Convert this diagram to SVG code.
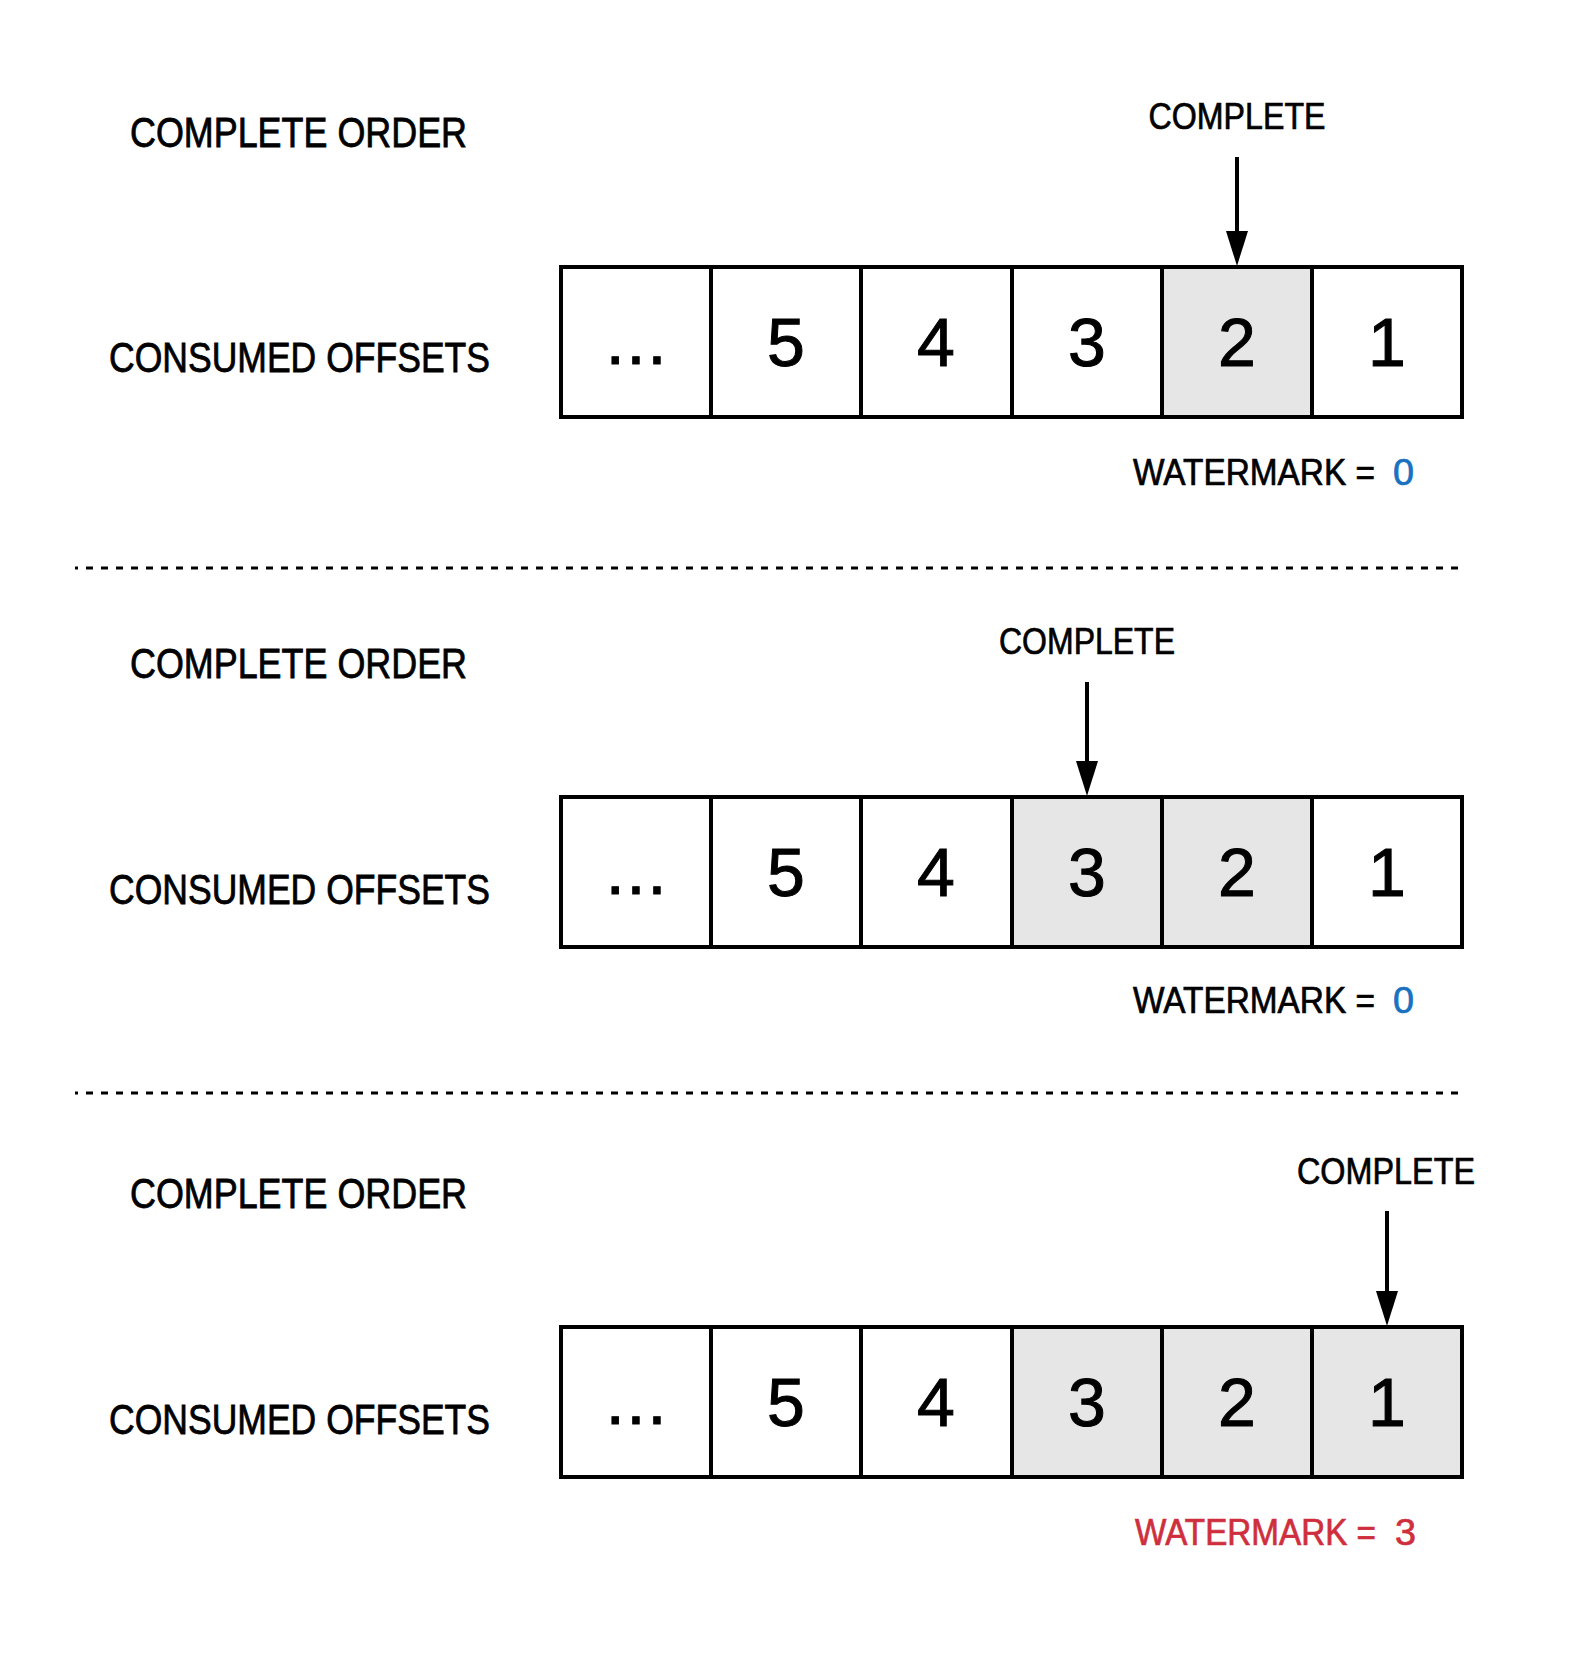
<svg xmlns="http://www.w3.org/2000/svg" width="1594" height="1665" viewBox="0 0 1594 1665">
<style>
  .lbl { font-family: "Liberation Sans", Arial, sans-serif; font-size: 42px; fill: #000; stroke: #000; stroke-width: 0.8px; }
  .cmp { font-family: "Liberation Sans", Arial, sans-serif; font-size: 37px; fill: #000; stroke: #000; stroke-width: 0.7px; text-anchor: middle; }
  .wm { font-family: "Liberation Sans", Arial, sans-serif; font-size: 36px; fill: #000; stroke: #000; stroke-width: 0.7px; }
  .blue { fill: #1971c2; stroke: #1971c2; }
  .red { fill: #cf2f3d; stroke: #cf2f3d; }
  .cell { fill: #ffffff; stroke: #000; stroke-width: 4; }
  .done { fill: #e6e6e6; }
  .num { font-family: "Liberation Sans", Arial, sans-serif; font-size: 68px; fill: #000; stroke: #000; stroke-width: 1px; text-anchor: middle; }
  .dots { letter-spacing: 2px; }
  .arrow { stroke: #000; stroke-width: 4; fill: none; marker-end: url(#head); }
  .sep { stroke: #000; stroke-width: 3; stroke-dasharray: 7 8; stroke-dashoffset: 4; }
</style>
<defs>
  <marker id="head" markerUnits="userSpaceOnUse" markerWidth="36" markerHeight="24" refX="6" refY="11" orient="auto">
    <path d="M0,0 L35,11 L0,22 Z" fill="#000"/>
  </marker>
</defs>
<rect width="1594" height="1665" fill="#ffffff"/>

<!-- Section 1 -->
<g id="label-order-1"><text class="lbl" x="130" y="147" textLength="337" lengthAdjust="spacingAndGlyphs">COMPLETE ORDER</text></g>
<g id="label-offsets-1"><text class="lbl" x="109" y="372" textLength="381" lengthAdjust="spacingAndGlyphs">CONSUMED OFFSETS</text></g>
<g id="label-complete-1"><text class="cmp" x="1237" y="129" textLength="177" lengthAdjust="spacingAndGlyphs">COMPLETE</text></g>
<g id="row-1">
  <rect class="cell" x="561" y="267" width="150" height="150"/>
  <rect class="cell" x="711" y="267" width="150" height="150"/>
  <rect class="cell" x="861" y="267" width="151" height="150"/>
  <rect class="cell" x="1012" y="267" width="150" height="150"/>
  <rect class="cell done" x="1162" y="267" width="150" height="150"/>
  <rect class="cell" x="1312" y="267" width="150" height="150"/>
  <text class="num dots" x="637" y="364">...</text>
  <text class="num" x="786" y="366">5</text>
  <text class="num" x="936" y="366">4</text>
  <text class="num" x="1087" y="366">3</text>
  <text class="num" x="1237" y="366">2</text>
  <text class="num" x="1387" y="366">1</text>
</g>
<g id="watermark-1">
  <text class="wm" x="1133" y="485" textLength="242" lengthAdjust="spacingAndGlyphs">WATERMARK =</text>
  <text class="wm blue" x="1393" y="485" textLength="21" lengthAdjust="spacingAndGlyphs">0</text>
</g>

<!-- Section 2 -->
<g id="label-order-2"><text class="lbl" x="130" y="678" textLength="337" lengthAdjust="spacingAndGlyphs">COMPLETE ORDER</text></g>
<g id="label-offsets-2"><text class="lbl" x="109" y="904" textLength="381" lengthAdjust="spacingAndGlyphs">CONSUMED OFFSETS</text></g>
<g id="label-complete-2"><text class="cmp" x="1087" y="654" textLength="176" lengthAdjust="spacingAndGlyphs">COMPLETE</text></g>
<g id="row-2">
  <rect class="cell" x="561" y="797" width="150" height="150"/>
  <rect class="cell" x="711" y="797" width="150" height="150"/>
  <rect class="cell" x="861" y="797" width="151" height="150"/>
  <rect class="cell done" x="1012" y="797" width="150" height="150"/>
  <rect class="cell done" x="1162" y="797" width="150" height="150"/>
  <rect class="cell" x="1312" y="797" width="150" height="150"/>
  <text class="num dots" x="637" y="894">...</text>
  <text class="num" x="786" y="896">5</text>
  <text class="num" x="936" y="896">4</text>
  <text class="num" x="1087" y="896">3</text>
  <text class="num" x="1237" y="896">2</text>
  <text class="num" x="1387" y="896">1</text>
</g>
<g id="watermark-2">
  <text class="wm" x="1133" y="1013" textLength="242" lengthAdjust="spacingAndGlyphs">WATERMARK =</text>
  <text class="wm blue" x="1393" y="1013" textLength="21" lengthAdjust="spacingAndGlyphs">0</text>
</g>

<!-- Section 3 -->
<g id="label-order-3"><text class="lbl" x="130" y="1208" textLength="337" lengthAdjust="spacingAndGlyphs">COMPLETE ORDER</text></g>
<g id="label-offsets-3"><text class="lbl" x="109" y="1434" textLength="381" lengthAdjust="spacingAndGlyphs">CONSUMED OFFSETS</text></g>
<g id="label-complete-3"><text class="cmp" x="1386" y="1184" textLength="178" lengthAdjust="spacingAndGlyphs">COMPLETE</text></g>
<g id="row-3">
  <rect class="cell" x="561" y="1327" width="150" height="150"/>
  <rect class="cell" x="711" y="1327" width="150" height="150"/>
  <rect class="cell" x="861" y="1327" width="151" height="150"/>
  <rect class="cell done" x="1012" y="1327" width="150" height="150"/>
  <rect class="cell done" x="1162" y="1327" width="150" height="150"/>
  <rect class="cell done" x="1312" y="1327" width="150" height="150"/>
  <text class="num dots" x="637" y="1424">...</text>
  <text class="num" x="786" y="1426">5</text>
  <text class="num" x="936" y="1426">4</text>
  <text class="num" x="1087" y="1426">3</text>
  <text class="num" x="1237" y="1426">2</text>
  <text class="num" x="1387" y="1426">1</text>
</g>
<g id="watermark-3">
  <text class="wm red" x="1135" y="1545" textLength="241" lengthAdjust="spacingAndGlyphs">WATERMARK =</text>
  <text class="wm red" x="1395" y="1545" textLength="21" lengthAdjust="spacingAndGlyphs">3</text>
</g>

<!-- Separators -->
<g id="separators">
  <line class="sep" x1="75" y1="568" x2="1462" y2="568"/>
  <line class="sep" x1="75" y1="1093" x2="1462" y2="1093"/>
</g>

<!-- Connectors -->
<g id="connectors">
  <line class="arrow" x1="1237" y1="157" x2="1237" y2="237"/>
  <line class="arrow" x1="1087" y1="682" x2="1087" y2="767"/>
  <line class="arrow" x1="1387" y1="1211" x2="1387" y2="1297"/>
</g>
</svg>
